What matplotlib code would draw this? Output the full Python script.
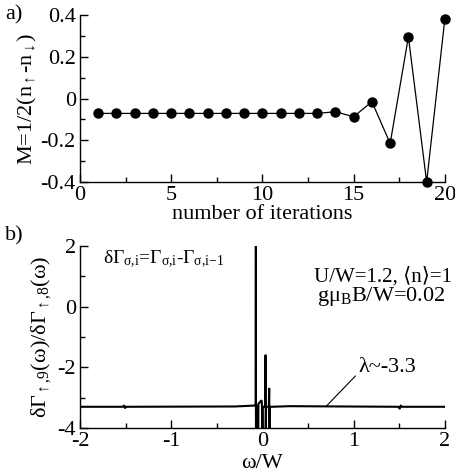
import matplotlib
matplotlib.use("Agg")
import matplotlib.pyplot as plt
from matplotlib.ticker import MultipleLocator

plt.rcParams['font.family'] = ['Liberation Serif', 'DejaVu Serif']
plt.rcParams['mathtext.fontset'] = 'custom'
plt.rcParams['mathtext.rm'] = 'Liberation Serif'
plt.rcParams['mathtext.it'] = 'Liberation Serif:italic'
plt.rcParams['mathtext.default'] = 'regular'
plt.rcParams['axes.unicode_minus'] = False

# Panel a) data
iterations = list(range(1, 21))
magnetization = [-0.071, -0.071, -0.071, -0.071, -0.071, -0.071, -0.071, -0.071,
                 -0.071, -0.071, -0.071, -0.071, -0.071, -0.063, -0.087, -0.015,
                 -0.215, 0.296, -0.400, 0.384]

# Panel b) data
omega = [-2.0, -1.53, -1.515, -1.505, -1.495, -0.3, -0.09, -0.074, -0.072, -0.071,
         -0.069, -0.05, -0.047, -0.044, -0.015, -0.009, -0.005, 0.0, 0.004, 0.03,
         0.034, 0.036, 0.04, 0.07, 0.074, 0.077, 0.08, 0.1, 0.3, 1.49, 1.505,
         1.515, 1.53, 2.0]
ratio = [-3.30, -3.30, -3.26, -3.34, -3.30, -3.29, -3.26, -3.26, 2.3, -4.3,
         -3.30, -3.27, -4.3, -3.20, -3.10, -3.10, -3.30, -4.3, -3.30, -3.30,
         -1.60, -4.3, -3.30, -3.30, -2.70, -4.3, -3.30, -3.30, -3.28, -3.30, -3.36,
         -3.26, -3.30, -3.30]

fig = plt.figure(figsize=(4.55, 4.74), dpi=100)
ax1 = fig.add_axes([0.1758, 0.616, 0.802, 0.352])
ax2 = fig.add_axes([0.1758, 0.097, 0.802, 0.384])

FS = 16
for ax in (ax1, ax2):
    ax.spines['top'].set_visible(False)
    ax.spines['right'].set_visible(False)
    ax.tick_params(which='major', direction='in', length=6, width=1, labelsize=FS,
                   top=False, right=False, pad=3)
    ax.tick_params(which='minor', direction='in', length=3.5, width=1,
                   top=False, right=False)
    for s in ('left', 'bottom'):
        ax.spines[s].set_linewidth(1)

ax1.plot(iterations, magnetization, color='black', lw=0.9, marker='o', ms=6.5,
         clip_on=False, zorder=3)
ax1.set_xlim(0, 20)
ax1.set_ylim(-0.4, 0.4)
ax1.xaxis.set_major_locator(MultipleLocator(5))
ax1.xaxis.set_minor_locator(MultipleLocator(2.5))
ax1.yaxis.set_minor_locator(MultipleLocator(0.1))
ax1.set_yticks([-0.4, -0.2, 0.0, 0.2, 0.4])
ax1.set_yticklabels(['-0.4', '-0.2', '0', '0.2', '0.4'])
ax1.set_xlabel('number of iterations', fontsize=FS, labelpad=0)
ax1.set_ylabel(r'M=1/2(n$_{{\uparrow}}$-n$_{{\downarrow}}$)', fontsize=FS, labelpad=1)

ax2.plot(omega, ratio, color='black', lw=1.5)
ax2.set_xlim(-2, 2)
ax2.set_ylim(-4, 2)
ax2.xaxis.set_major_locator(MultipleLocator(1))
ax2.xaxis.set_minor_locator(MultipleLocator(0.5))
ax2.yaxis.set_major_locator(MultipleLocator(2))
ax2.yaxis.set_minor_locator(MultipleLocator(1))
ax2.set_xlabel('ω/W', fontsize=FS, labelpad=2)
ax2.set_ylabel(r'δΓ$_{{\uparrow}{,}9}$(ω)/δΓ$_{{\uparrow}{,}8}$(ω)', fontsize=FS, labelpad=3)

ax2.text(-1.75, 1.55, r'δΓ$_{σ{,}i}$=Γ$_{σ{,}i}$-Γ$_{σ{,}i{-}1}$', fontsize=14, va='center')
ax2.text(2.08, 1.0, 'U/W=1.2, ⟨n⟩=1', fontsize=15, ha='right', va='center')
ax2.text(2.0, 0.35, r'gμ$_B$B/W=0.02', fontsize=FS, ha='right', va='center')
ax2.annotate('λ~-3.3', xy=(0.70, -3.28), xytext=(1.05, -2.0), fontsize=FS,
             va='center', ha='left',
             arrowprops=dict(arrowstyle='-', color='black', lw=0.8,
                             shrinkA=0, shrinkB=0,
                             relpos=(0.0, 0.2)))

fig.text(0.012, 0.968, 'a)', fontsize=FS, va='center', ha='left')
fig.text(0.012, 0.503, 'b)', fontsize=FS, va='center', ha='left')

fig.savefig('out.png', dpi=100)
